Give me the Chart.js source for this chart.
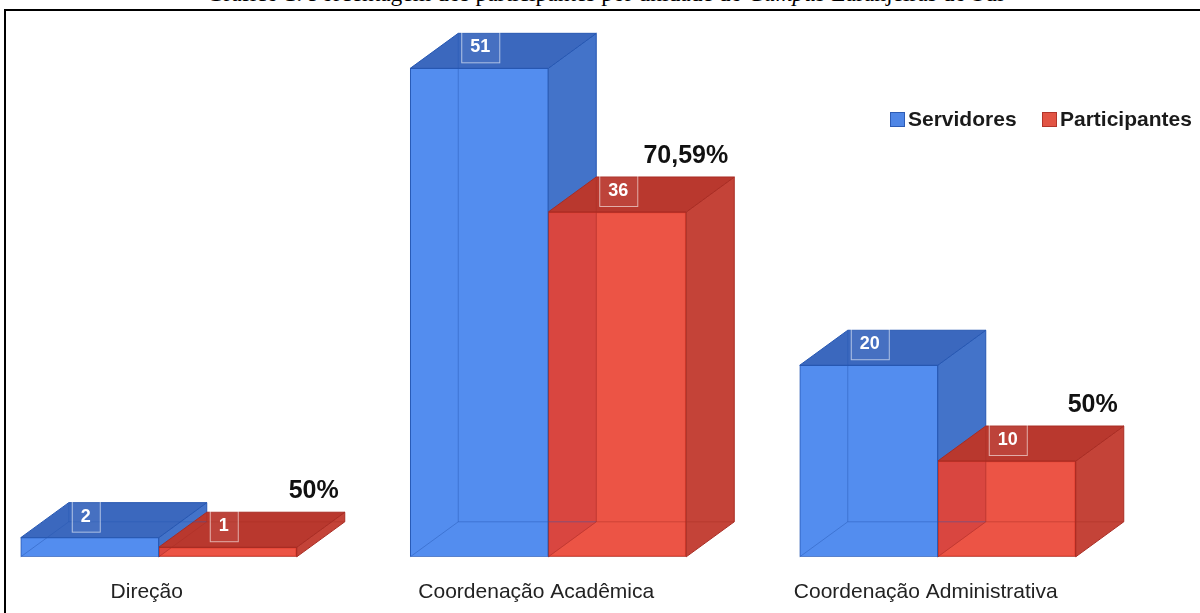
<!DOCTYPE html>
<html lang="pt-BR">
<head>
<meta charset="utf-8">
<title>Gráfico 1</title>
<script src="https://cdn.jsdelivr.net/npm/chart.js@4.4.1/dist/chart.umd.min.js"></script>
<style>
  html, body { margin: 0; padding: 0; background: #fff; overflow: hidden; }
  #pagina { position: relative; width: 1200px; height: 613px; overflow: hidden; background: #fff; }
  #titulo { position: absolute; left: 5px; top: -18px; width: 1200px; text-align: center;
            font: 23.5px/23.5px "Liberation Serif", "Times New Roman", serif; color: #000; white-space: nowrap; }
  .linha { position: absolute; background: #000; }
  #caixaGrafico { position: absolute; left: -40px; top: 0; width: 1240px; height: 637px; }
  .legenda { position: absolute; top: 107px; height: 24px; display: flex; align-items: center;
             font: bold 21px "Liberation Sans", Arial, sans-serif; color: #1a1a1a; }
  .legenda span.cor { display: inline-block; width: 13px; height: 13px; margin-right: 3px; }
</style>
</head>
<body>
<div id="pagina">
  <div id="titulo">Gráfico 1: Porcentagem dos participantes por unidade do <i>Campus</i> Laranjeiras do Sul</div>
  <div class="linha" style="left:4px;top:9px;width:1196px;height:2px"></div>
  <div class="linha" style="left:4px;top:9px;width:2px;height:604px"></div>
  <div id="caixaGrafico"><canvas id="meuGrafico"></canvas></div>
  <div class="legenda" style="left:890px"><span class="cor" style="background:#4f86e6;border:1px solid #2d5cb5"></span>Servidores</div>
  <div class="legenda" style="left:1042px"><span class="cor" style="background:#e25444;border:1px solid #b2342a"></span>Participantes</div>
</div>
<script>
// dados
const categorias = ['Direção', 'Coordenação Acadêmica', 'Coordenação Administrativa'];
const servidores = [2, 51, 20];
const participantes = [1, 36, 10];
const percentuais = ['50%', '70,59%', '50%'];

// profundidade do efeito 3D
const profX = 48;
const profY = -35;

const cores = [
  { frente: '#538def', topo: '#3b68be', lado: '#4373c9', borda: '#2657b2' },
  { frente: 'rgba(234, 65, 49, 0.9)', topo: '#b9382e', lado: '#c44338', borda: '#a92c23' }
];

function caixa(el) {
  return { l: el.x - el.width / 2, r: el.x + el.width / 2, t: el.y, b: el.base };
}

const plugin3d = {
  id: 'efeito3d',
  beforeDatasetsDraw(chart) {
    const ctx = chart.ctx;
    ctx.save();
    ctx.lineWidth = 1;
    for (let i = 0; i < categorias.length; i++) {
      for (let d = 0; d < 2; d++) {
        const c = caixa(chart.getDatasetMeta(d).data[i]);
        const cor = cores[d];
        // face lateral
        ctx.beginPath();
        ctx.moveTo(c.r, c.t);
        ctx.lineTo(c.r + profX, c.t + profY);
        ctx.lineTo(c.r + profX, c.b + profY);
        ctx.lineTo(c.r, c.b);
        ctx.closePath();
        ctx.fillStyle = cor.lado;
        ctx.fill();
        ctx.strokeStyle = cor.borda;
        ctx.stroke();
        // face de cima
        ctx.beginPath();
        ctx.moveTo(c.l, c.t);
        ctx.lineTo(c.l + profX, c.t + profY);
        ctx.lineTo(c.r + profX, c.t + profY);
        ctx.lineTo(c.r, c.t);
        ctx.closePath();
        ctx.fillStyle = cor.topo;
        ctx.fill();
        ctx.strokeStyle = cor.borda;
        ctx.stroke();
      }
    }
    ctx.restore();
  },
  afterDatasetsDraw(chart) {
    const ctx = chart.ctx;
    ctx.save();
    for (let i = 0; i < categorias.length; i++) {
      for (let d = 0; d < 2; d++) {
        const c = caixa(chart.getDatasetMeta(d).data[i]);
        // arestas de trás vistas pela transparência
        ctx.beginPath();
        ctx.moveTo(c.l + profX, c.t + profY);
        ctx.lineTo(c.l + profX, c.b + profY);
        ctx.lineTo(c.r + profX, c.b + profY);
        ctx.moveTo(c.l, c.b);
        ctx.lineTo(c.l + profX, c.b + profY);
        ctx.strokeStyle = d === 0 ? 'rgba(38, 87, 178, 0.45)' : 'rgba(169, 44, 35, 0.45)';
        ctx.lineWidth = 1;
        ctx.stroke();

        // rótulo com o valor
        const valor = String(chart.data.datasets[d].data[i]);
        ctx.font = 'bold 18px "Liberation Sans", Arial, sans-serif';
        const w = ctx.measureText(valor).width + 18;
        const bx = c.l + profX + 3;
        const by = c.t + profY - 2;
        ctx.fillStyle = 'rgba(255, 255, 255, 0.06)';
        ctx.fillRect(bx, by, w, 31);
        ctx.strokeStyle = 'rgba(255, 255, 255, 0.6)';
        ctx.strokeRect(bx + 0.5, by + 0.5, w, 31);
        ctx.fillStyle = '#ffffff';
        ctx.textAlign = 'center';
        ctx.textBaseline = 'middle';
        ctx.fillText(valor, bx + w / 2, by + 16);
      }
      // porcentagem sobre a barra de participantes
      const p = caixa(chart.getDatasetMeta(1).data[i]);
      ctx.font = 'bold 25px "Liberation Sans", Arial, sans-serif';
      ctx.fillStyle = '#111';
      ctx.textAlign = 'right';
      ctx.textBaseline = 'alphabetic';
      ctx.fillText(percentuais[i], p.r + profX - 6, p.t + profY - 14);
    }
    ctx.restore();
  }
};

const ctx = document.getElementById('meuGrafico').getContext('2d');

const grafico = new Chart(ctx, {
  type: 'bar',
  data: {
    labels: categorias,
    datasets: [
      {
        label: 'Servidores',
        data: servidores,
        backgroundColor: cores[0].frente,
        borderColor: cores[0].borda,
        borderWidth: 1,
        borderSkipped: false,
        barThickness: 138
      },
      {
        label: 'Participantes',
        data: participantes,
        backgroundColor: cores[1].frente,
        borderColor: cores[1].borda,
        borderWidth: 1,
        borderSkipped: false,
        barThickness: 138
      }
    ]
  },
  options: {
    responsive: true,
    maintainAspectRatio: false,
    animation: false,
    layout: { padding: { left: 4, right: 67.5, top: 30, bottom: 9 } },
    plugins: {
      legend: { display: false },
      tooltip: { enabled: false }
    },
    scales: {
      x: {
        grid: { display: false, drawTicks: false },
        border: { display: false },
        ticks: {
          color: '#222',
          font: { family: '"Liberation Sans", Arial, sans-serif', size: 21 },
          padding: 23,
          labelOffset: -12,
          maxRotation: 0,
          autoSkip: false
        }
      },
      y: {
        display: false,
        min: 0,
        max: 55
      }
    }
  },
  plugins: [plugin3d]
});
</script>
</body>
</html>
